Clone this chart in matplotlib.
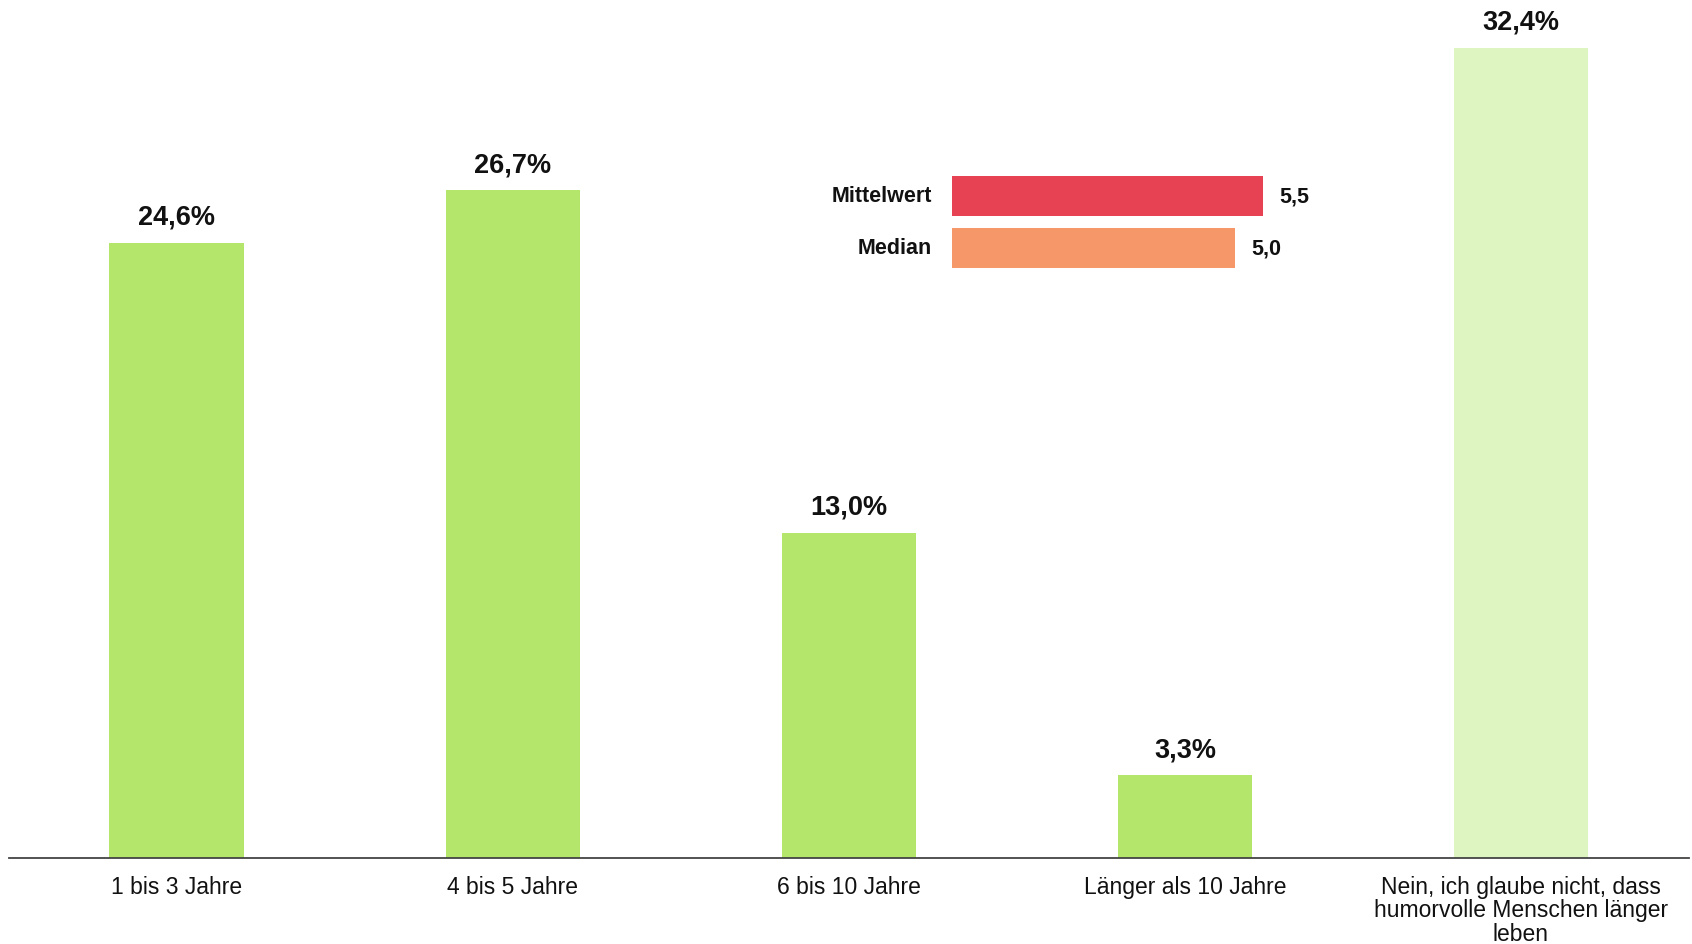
import matplotlib
matplotlib.use("Agg")
import matplotlib.pyplot as plt

categories = ["1 bis 3 Jahre", "4 bis 5 Jahre", "6 bis 10 Jahre", "Länger als 10 Jahre",
              "Nein, ich glaube nicht, dass\nhumorvolle Menschen länger\nleben"]
values = [24.6, 26.7, 13.0, 3.3, 32.4]
value_labels = ["24,6%", "26,7%", "13,0%", "3,3%", "32,4%"]
bar_colors = ["#b3e66a", "#b3e66a", "#b3e66a", "#b3e66a", "#dff5c1"]

stat_names = ["Mittelwert", "Median"]
stat_values = [5.5, 5.0]
stat_labels = ["5,5", "5,0"]
stat_colors = ["#e64254", "#f59768"]

plt.rcParams['font.family'] = ['Liberation Sans', 'DejaVu Sans']

W, H = 1692, 945
fig = plt.figure(figsize=(W / 100, H / 100), dpi=100)
ax = fig.add_axes([8.6 / W, 1 - 859 / H, (1689 - 8.6) / W, (859 - 6.3) / H])
x = list(range(len(categories)))
ax.bar(x, values, width=0.4, color=bar_colors)
ax.set_xlim(-0.5, 4.5)
ax.set_ylim(0, 34.1)
for s in ["top", "right", "left"]:
    ax.spines[s].set_visible(False)
ax.spines["bottom"].set_color("#444444")
ax.spines["bottom"].set_linewidth(1.3)
ax.set_yticks([])
ax.set_xticks(x)
ax.set_xticklabels(categories, fontsize=16.5, linespacing=1.04, color="#111111", va="top")
ax.tick_params(axis="x", length=0, pad=12)
for xi, v, lab in zip(x, values, value_labels):
    ax.annotate(lab, (xi, v), xytext=(0, 13), textcoords="offset pixels",
                ha="center", va="bottom", fontsize=19.5, fontweight="bold", color="#111111")

# inset
ix0 = 952
iw = 56.5 * 6
top = 171
ih = 104
inax = fig.add_axes([ix0 / W, 1 - (top + ih) / H, iw / W, ih / H])
ypos = [0, 1]
inax.barh(ypos, stat_values, height=0.77, color=stat_colors)
inax.set_xlim(0, 6)
inax.set_ylim(1.5, -0.5)
inax.axis("off")
for y, v, lab, name in zip(ypos, stat_values, stat_labels, stat_names):
    inax.annotate(lab, (v, y), xytext=(17, 0), textcoords="offset pixels",
                  ha="left", va="center", fontsize=15.5, fontweight="bold", color="#111111")
    inax.annotate(name, (0, y), xytext=(-20, 0), textcoords="offset pixels",
                  ha="right", va="center", fontsize=15.5, fontweight="bold", color="#111111")

fig.savefig("out.png", dpi=100)
